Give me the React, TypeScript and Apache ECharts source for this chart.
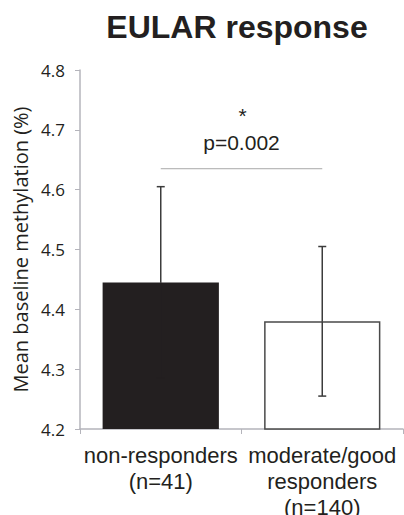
import React, { useEffect, useRef } from "react";
import * as echarts from "echarts";

const titleText = "EULAR response";
const yAxisName = "Mean baseline methylation (%)";
const categories = ["non-responders\n(n=41)", "moderate/good\nresponders\n(n=140)"];
const means = [4.445, 4.38];
const errors = [0.16, 0.125];
const barColors = ["#231f20", "#ffffff"];
const yTicks = [4.2, 4.3, 4.4, 4.5, 4.6, 4.7, 4.8];
const sigLevel = 4.635;
const sigStar = "*";
const sigText = "p=0.002";

export default function App() {
  const ref = useRef<HTMLDivElement>(null);
  useEffect(() => {
    const chart = echarts.init(ref.current!, null, { renderer: "svg" });
    const axisColor = "#b4b4bb";
    const textColor = "#231f20";
    const errColor = "#3c3c3c";
    chart.setOption({
      animation: false,
      backgroundColor: "#ffffff",
      graphic: [
        {
          type: "text",
          x: 237,
          y: 27,
          style: {
            text: titleText,
            fontFamily: "Liberation Sans",
            fontWeight: "bold",
            fontSize: 32,
            fill: textColor,
            align: "center",
            verticalAlign: "middle",
          },
        },
      ],
      grid: { left: 80, right: 1, top: 70, bottom: 86, containLabel: false, outerBoundsMode: "none" },
      xAxis: {
        type: "category",
        data: categories,
        axisLine: { lineStyle: { color: axisColor, width: 1.5 } },
        axisTick: { show: true, length: 5, lineStyle: { color: axisColor } },
        axisLabel: {
          fontFamily: "Liberation Sans",
          fontSize: 22,
          color: textColor,
          lineHeight: 26,
          margin: 13,
          interval: 0,
        },
      },
      yAxis: {
        type: "value",
        min: yTicks[0],
        max: yTicks[yTicks.length - 1],
        interval: 0.1,
        name: yAxisName,
        nameLocation: "middle",
        nameGap: 46,
        nameTextStyle: { fontFamily: "Open Sans", fontSize: 20, color: textColor },
        axisLine: { show: true, lineStyle: { color: axisColor, width: 1.5 } },
        axisTick: { show: true, length: 5, lineStyle: { color: axisColor } },
        splitLine: { show: false },
        axisLabel: {
          fontFamily: "Open Sans",
          fontSize: 17,
          color: textColor,
          margin: 15,
          formatter: (v: number) => v.toFixed(1),
        },
      },
      series: [
        {
          type: "bar",
          barWidth: "72%",
          data: means.map((m, i) => ({
            value: m,
            itemStyle: {
              color: barColors[i],
              borderColor: i === 0 ? barColors[i] : "#4a4a4a",
              borderWidth: i === 0 ? 0 : 1.5,
            },
          })),
          z: 2,
        },
        {
          type: "custom",
          z: 5,
          data: means.map((m, i) => [i, m - errors[i], m + errors[i], m]),
          renderItem: (params: any, api: any) => {
            const i = api.value(0);
            const lo = api.coord([i, api.value(1)]);
            const hi = api.coord([i, api.value(2)]);
            const mid = api.coord([i, api.value(3)]);
            const cap = 4;
            const upper = { stroke: errColor, lineWidth: 1.5 };
            const lowerColor = barColors[params.dataIndex] === "#ffffff" ? errColor : barColors[params.dataIndex];
            const lower = { stroke: lowerColor, lineWidth: 1.5 };
            return {
              type: "group",
              children: [
                { type: "line", shape: { x1: hi[0], y1: hi[1], x2: mid[0], y2: mid[1] }, style: upper },
                { type: "line", shape: { x1: mid[0], y1: mid[1], x2: lo[0], y2: lo[1] }, style: lower },
                { type: "line", shape: { x1: hi[0] - cap, y1: hi[1], x2: hi[0] + cap, y2: hi[1] }, style: upper },
                { type: "line", shape: { x1: lo[0] - cap, y1: lo[1], x2: lo[0] + cap, y2: lo[1] }, style: lower },
              ],
            };
          },
        },
        {
          type: "custom",
          z: 5,
          data: [[0, 1, sigLevel]],
          renderItem: (params: any, api: any) => {
            const a = api.coord([api.value(0), api.value(2)]);
            const b = api.coord([api.value(1), api.value(2)]);
            const cx = (a[0] + b[0]) / 2;
            return {
              type: "group",
              children: [
                { type: "line", shape: { x1: a[0], y1: a[1], x2: b[0], y2: b[1] }, style: { stroke: "#a8a8a8", lineWidth: 1 } },
                {
                  type: "text",
                  x: cx,
                  y: a[1] - 26,
                  style: { text: sigText, fontFamily: "Liberation Sans", fontSize: 21, fill: textColor, align: "center", verticalAlign: "middle" },
                },
                {
                  type: "text",
                  x: cx + 1,
                  y: a[1] - 53,
                  style: { text: sigStar, fontFamily: "Liberation Sans", fontSize: 21, fill: textColor, align: "center", verticalAlign: "middle" },
                },
              ],
            };
          },
        },
      ],
    });
    return () => chart.dispose();
  }, []);
  return <div ref={ref} style={{ width: 404, height: 515, position: "absolute", left: 0, top: 0 }} />;
}
